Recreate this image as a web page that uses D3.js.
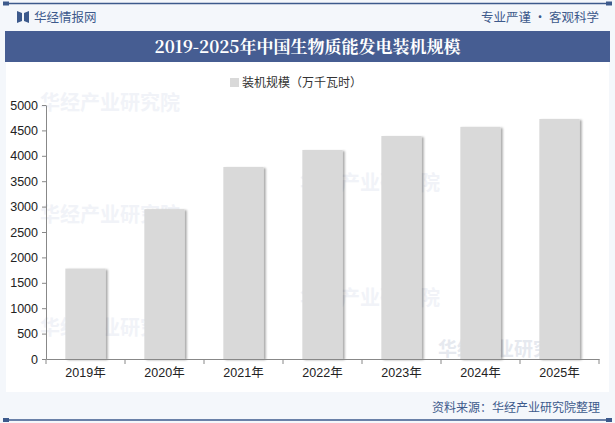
<!DOCTYPE html>
<html>
<head>
<meta charset="utf-8">
<script src="https://cdn.jsdelivr.net/npm/d3@7"></script>
<style>
body{margin:0;padding:0;background:#fff;}
text{font-family:"Noto Sans CJK SC","Noto Sans",sans-serif;}
.axis text{font-family:"Liberation Sans","Noto Sans CJK SC",sans-serif;}
</style>
</head>
<body>
<script>
var years = ["2019年","2020年","2021年","2022年","2023年","2024年","2025年"];
var capacity = [1780, 2950, 3780, 4115, 4390, 4570, 4725];
var yTicks = [0,500,1000,1500,2000,2500,3000,3500,4000,4500,5000];
var seriesName = "装机规模（万千瓦时）";

var W = 615, H = 423;
var margin = {top:105, right:16, bottom:64, left:46};
var width = W - margin.left - margin.right;
var height = H - margin.top - margin.bottom;

var svg = d3.select("body").append("svg")
    .attr("width", W).attr("height", H);

// page background + header/footer
svg.append("rect").attr("width", W).attr("height", H).attr("fill", "#f4f7fb");
svg.append("rect").attr("x", 6).attr("y", 62).attr("width", W - 12).attr("height", 330).attr("fill", "#fff");
svg.append("line").attr("x1", 6).attr("x2", W - 6).attr("y1", 3.5).attr("y2", 3.5)
    .attr("stroke", "#3d5a8c").attr("stroke-width", 1.5);
svg.append("line").attr("x1", 6).attr("x2", W - 6).attr("y1", 420).attr("y2", 420)
    .attr("stroke", "#3d5a8c").attr("stroke-width", 1.5);
[[6,3.5],[W-6,3.5],[6,420],[W-6,420]].forEach(function(p){
    svg.append("rect").attr("x", p[0] - 3).attr("y", p[1] - 2).attr("width", 6).attr("height", 4).attr("fill", "#3d5a8c");
});

// logo
svg.append("path").attr("d", "M17,11 L22,13 L22,21 L17,23 Z M24,13 L29,11 L29,23 L24,21 Z").attr("fill", "#3d5a8c");
svg.append("text").attr("x", 34).attr("y", 22).attr("font-size", 12.5).attr("fill", "#3d5a8c").text("华经情报网");
svg.append("text").attr("x", 599).attr("y", 22).attr("text-anchor", "end").attr("font-size", 12.5)
    .attr("fill", "#3d5a8c").text("专业严谨 • 客观科学");

svg.append("rect").attr("x", 5).attr("y", 31).attr("width", W - 10).attr("height", 31).attr("fill", "#465d92");
svg.append("text").attr("x", W / 2).attr("y", 53).attr("text-anchor", "middle")
    .attr("font-size", 17).attr("font-weight", "bold").attr("fill", "#fff")
    .style("font-family", "'Noto Serif CJK SC','DejaVu Serif',serif")
    .text("2019-2025年中国生物质能发电装机规模");

svg.append("text").attr("x", 600).attr("y", 412).attr("text-anchor", "end").attr("font-size", 12)
    .attr("fill", "#3d5a8c").text("资料来源：华经产业研究院整理");

// watermarks (faint)
var wm = [[40,110],[40,222],[300,190],[300,305],[40,335]];
wm.forEach(function(p){
    svg.append("text").attr("x", p[0]).attr("y", p[1]).attr("font-size", 20).attr("font-weight", "bold")
        .attr("fill", "#f1f3f8").text("华经产业研究院");
});
svg.append("text").attr("x", 438).attr("y", 356).attr("font-size", 19).attr("font-weight", "bold")
    .attr("fill", "#e6e9ef").text("华经产业研究院");

// legend
svg.append("rect").attr("x", 230).attr("y", 78).attr("width", 9).attr("height", 9).attr("fill", "#d9d9d9");
svg.append("text").attr("x", 242).attr("y", 87).attr("font-size", 12).attr("fill", "#333").text(seriesName);

var g = svg.append("g").attr("transform", "translate(" + margin.left + "," + margin.top + ")");

var x = d3.scaleBand().domain(years).range([0, width]).paddingInner(0.49).paddingOuter(0.245);
var y = d3.scaleLinear().domain([0, 5000]).range([height, 0]);

var defs = svg.append("defs");
var f = defs.append("filter").attr("id", "shadow").attr("x", "-20%").attr("y", "-10%").attr("width", "150%").attr("height", "130%");
f.append("feDropShadow").attr("dx", 2).attr("dy", 1).attr("stdDeviation", 1.2)
    .attr("flood-color", "#000").attr("flood-opacity", 0.35);

g.selectAll(".bar").data(capacity).enter().append("rect")
    .attr("class", "bar")
    .attr("x", function(d, i){ return x(years[i]); })
    .attr("y", function(d){ return y(d); })
    .attr("width", x.bandwidth())
    .attr("height", function(d){ return height - y(d); })
    .attr("fill", "#d9d9d9")
    .attr("filter", "url(#shadow)");

var yAxis = g.append("g").attr("class", "axis")
    .call(d3.axisLeft(y).tickValues(yTicks).tickFormat(d3.format("d")).tickSize(4).tickSizeOuter(0));
yAxis.selectAll("text").attr("font-size", 12.5).attr("fill", "#222").attr("dx", -1);

var xAxis = g.append("g").attr("class", "axis").attr("transform", "translate(0," + height + ")")
    .call(d3.axisBottom(x).tickSize(0).tickSizeOuter(0));
xAxis.selectAll("text").attr("font-size", 12.5).attr("fill", "#222").attr("dy", "1.2em");
// category separators
xAxis.selectAll(".sep").data(d3.range(years.length + 1)).enter().append("line")
    .attr("class", "sep")
    .attr("x1", function(i){ return i * width / years.length; })
    .attr("x2", function(i){ return i * width / years.length; })
    .attr("y1", 0).attr("y2", 5).attr("stroke", "#888");
svg.selectAll(".domain").attr("stroke", "#888");
svg.selectAll(".tick line").attr("stroke", "#888");
</script>
</body>
</html>
